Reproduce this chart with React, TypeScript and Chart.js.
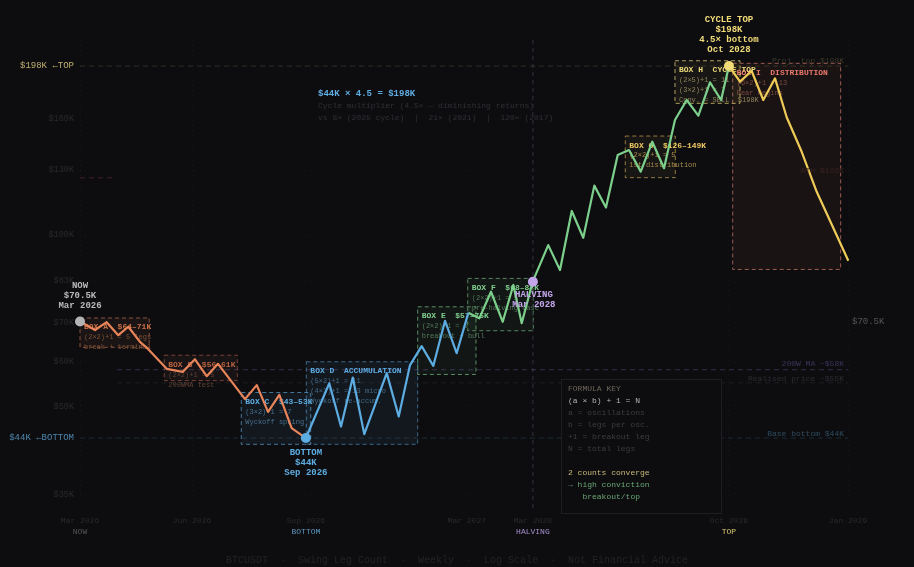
import React, { useEffect, useRef } from "react";
import Chart from "chart.js/auto";

// ---- data ----
const orangeX = [0, 1.33, 2.36, 3.39, 4.28, 5.31, 6.02, 7.68, 9.09, 10.18, 11.22, 12.22, 14.61, 15.65, 16.65, 17.65, 18.74, 20];
const orangeP = [70.5, 68.1, 70.3, 66.7, 69.0, 64.9, 63.1, 58.2, 57.5, 60.5, 56.5, 59.4, 51.5, 54.5, 48.9, 52.4, 45.8, 44];
const blueX = [20, 22.07, 23.11, 24.15, 25.17, 27.16, 28.22, 29.22, 30.25, 31.28, 32.32, 33.35, 34.38];
const blueP = [44, 54.9, 46.1, 56.2, 44.7, 57.2, 48.0, 59.1, 63.8, 58.9, 70.7, 62.0, 73.0];
const greenX = [34.38, 35.36, 36.39, 37.43, 38.37, 39.11, 40.08, 41.46, 42.5, 43.54, 44.56, 45.54, 46.57, 47.61, 48.61, 49.65, 50.67, 51.71, 52.68, 53.72, 54.75, 55.78, 56.76, 57.46];
const greenP = [73.0, 71.4, 79.5, 70.4, 81.7, 70.0, 82.8, 96.0, 86.8, 110.2, 98.9, 122.1, 111.8, 138.2, 141.0, 129.2, 145.8, 131.0, 159.2, 172.6, 162, 185.4, 172.6, 198];
const yellowX = [57.46, 58.44, 59.47, 60.5, 61.54, 62.57, 63.9, 65.23, 68.03];
const yellowP = [198, 185.9, 194.1, 172.6, 188.4, 161, 140, 119.1, 90.1];

const markerX = [0, 20, 40.1, 57.46];
const markerP = [70.5, 44, 82.8, 198];
const markerLines = [
  ["NOW", "$70.5K", "Mar 2026"],
  ["BOTTOM", "$44K", "Sep 2026"],
  ["HALVING", "Mar 2028"],
  ["CYCLE TOP", "$198K", "4.5× bottom", "Oct 2028"],
];

const priceTicks = [35, 44, 50, 60, 70, 83, 100, 130, 160, 198];
const priceTickLabels = ["$35K", "$44K ←BOTTOM", "$50K", "$60K", "$70K", "$83K", "$100K", "$130K", "$160K", "$198K ←TOP"];
const timeTicks = [0, 9.92, 20, 34.25, 40.1, 57.46, 68];
const timeLabels = ["Mar 2026", "Jun 2026", "Sep 2026", "Mar 2027", "Mar 2028", "Oct 2028", "Jan 2029"];
const timeTags = ["NOW", "", "BOTTOM", "", "HALVING", "TOP", ""];

const boxX0 = [0, 7.46, 14.28, 20.04, 29.9, 34.33, 48.28, 57.79, 52.68];
const boxX1 = [6.13, 13.93, 20.43, 29.9, 35.06, 40.14, 52.71, 67.35, 58.44];
const boxLow = [63.5, 55.5, 42.9, 42.9, 56.9, 67.9, 126.1, 87, 170.3];
const boxHigh = [71.5, 61.5, 52.9, 59.9, 74.8, 83.9, 149.2, 200.2, 202.3];
const boxTitles = ["BOX A  $64–71K", "BOX B  $56–61K", "BOX C  $43–53K", "BOX D  ACCUMULATION", "BOX E  $57–75K", "BOX F  $68–84K", "BOX G  $126–149K", "BOX I  DISTRIBUTION", "BOX H  CYCLE TOP"];
const boxNotes = [
  ["(2×2)+1 = 5 legs", "break + terminal"],
  ["(2×2)+1 = 5", "200WMA test"],
  ["(3×2)+1 = 7", "Wyckoff spring"],
  ["(5×2)+1 = 11", "(4×3)+1 = 13 micro", "Wyckoff re-accum."],
  ["(2×2)+1 = 5", "breakout + bull"],
  ["(2×2)+1 = 5", "pre-halving base"],
  ["(2×2)+1 = 5", "1st distribution"],
  ["(6×2)+1 = 13", "Bear begins"],
  ["(2×5)+1 = 11", "(3×2)+1 = 7", "Conv. = SELL  $198K"],
];

const refPrices = [198, 44, 58, 55, 126];
const refStart = [0, 0, 3.28, 3.28, 0];
const refEnd = [68, 68, 68, 68, 2.85];
const refLabels = ["Proj. top $198K", "Base bottom $44K", "200W MA ~$58K", "Realised price ~$55K", "ATH $126K"];

const halvingX = [40.1, 40.1];
const halvingP = [220, 33.16];

const formulaLines = ["FORMULA KEY", "(a × b) + 1 = N", "a = oscillations", "b = legs per osc.", "+1 = breakout leg", "N = total legs", "", "2 counts converge", "→ high conviction", "   breakout/top"];
const noteLines = ["$44K × 4.5 = $198K", "Cycle multiplier (4.5× — diminishing returns)", "vs 8× (2025 cycle)  |  21× (2021)  |  120× (2017)"];
const footerText = "BTCUSDT  ·  Swing Leg Count  ·  Weekly  ·  Log Scale  ·  Not Financial Advice";
const nowTag = "$70.5K";

// ---- styles ----
const BG = "#0d0d10";
const MONO = '"Liberation Mono", monospace';
const boxStyles = [
  { line: "rgba(232,133,90,.55)", fill: "rgba(232,133,90,.06)", title: "#c96f45", note: "#7c5238" },
  { line: "rgba(224,112,80,.5)", fill: "rgba(232,133,90,.05)", title: "#b8623f", note: "#5f4231" },
  { line: "rgba(93,173,226,.65)", fill: "rgba(93,173,226,.07)", title: "#5dade2", note: "#47708c" },
  { line: "rgba(93,173,226,.55)", fill: "rgba(93,173,226,.07)", title: "#5dade2", note: "#436a85" },
  { line: "rgba(126,210,140,.65)", fill: "rgba(126,210,140,.05)", title: "#7fce8e", note: "#53795a" },
  { line: "rgba(126,210,140,.6)", fill: "rgba(126,210,140,.05)", title: "#7fce8e", note: "#4f7556" },
  { line: "rgba(232,190,90,.6)", fill: "rgba(232,190,90,.05)", title: "#f0c860", note: "#a68c48" },
  { line: "rgba(226,130,115,.65)", fill: "rgba(232,120,60,.06)", title: "#e8786a", note: "#7a4a40" },
  { line: "rgba(240,220,120,.7)", fill: "rgba(240,220,120,.05)", title: "#eedb7a", note: "#8d8458" },
];
const refStyles = [
  { line: "rgba(240,220,120,.16)", label: "#3d3a2a" },
  { line: "rgba(93,173,226,.2)", label: "#2d4a5e" },
  { line: "rgba(160,130,230,.3)", label: "#3a3358" },
  { line: "rgba(140,140,160,.14)", label: "#2c2c30" },
  { line: "rgba(226,90,90,.3)", label: "#3a2222" },
];
const markerColors = ["#b4b4b4", "#5dade2", "#c3a6ea", "#f2dc78"];
const markerTextColors = ["#b9b9b9", "#5dade2", "#c3a6ea", "#f2dc78"];
const tagColors = ["#555555", "", "#5b96bf", "", "#a890cc", "#d8c470", ""];
const formulaColors = ["#6e6858", "#b5b5b5", "#3d3d3d", "#3d3d3d", "#3d3d3d", "#3d3d3d", "", "#c8b878", "#68a672", "#68a672"];

const pts = (xs: number[], ys: number[]) => xs.map((x, i) => ({ x, y: ys[i] }));
const legLine = (xs: number[], ys: number[], color: string) => ({
  data: pts(xs, ys), borderColor: color, borderWidth: 2.2, pointRadius: 0, tension: 0, fill: false, borderJoinStyle: "round" as const, clip: false,
});

function text(ctx: any, s: string, x: number, y: number, font: string, color: string, align = "left") {
  ctx.font = font;
  ctx.fillStyle = color;
  ctx.textAlign = align;
  ctx.textBaseline = "middle";
  ctx.fillText(s, x, y);
}

const boxesPlugin = {
  id: "boxes",
  beforeDatasetsDraw(chart: any) {
    const { ctx, scales: { x, y } } = chart;
    ctx.save();
    boxTitles.forEach((title, i) => {
      const l = x.getPixelForValue(boxX0[i]);
      const r = x.getPixelForValue(boxX1[i]);
      const t = y.getPixelForValue(boxHigh[i]);
      const b = y.getPixelForValue(boxLow[i]);
      const st = boxStyles[i];
      ctx.fillStyle = st.fill;
      ctx.fillRect(l, t, r - l, b - t);
      ctx.setLineDash([4, 3]);
      ctx.lineWidth = 1;
      ctx.strokeStyle = st.line;
      ctx.strokeRect(l, t, r - l, b - t);
      ctx.setLineDash([]);
      text(ctx, title, l + 4, t + 9.5, `bold 8px ${MONO}`, st.title);
      boxNotes[i].forEach((n, j) => text(ctx, n, l + 4, t + 19.5 + j * 10, `7px ${MONO}`, st.note));
    });
    noteLines.forEach((n, i) =>
      text(ctx, n, 318, 93.5 + i * 12, i === 0 ? `bold 9px ${MONO}` : `8px ${MONO}`, i === 0 ? "#5dade2" : "#2e3034"));
    ctx.restore();
  },
  afterDatasetsDraw(chart: any) {
    const { ctx, scales: { x, y } } = chart;
    ctx.save();
    const labelOffset = [-5.5, -4, -5.5, -4, -7];
    refLabels.forEach((s, i) => {
      text(ctx, s, 844, y.getPixelForValue(refPrices[i]) + labelOffset[i], `8px ${MONO}`, refStyles[i].label, "right");
    });
    text(ctx, nowTag, 852, y.getPixelForValue(markerP[0]) + 0.5, `9px ${MONO}`, "#555555");

    ctx.fillStyle = BG;
    ctx.fillRect(561.5, 379.5, 160, 134);
    ctx.strokeStyle = "#1d1e21";
    ctx.lineWidth = 1;
    ctx.strokeRect(561.5, 379.5, 160, 134);
    formulaLines.forEach((s, i) => {
      if (s) text(ctx, s, 568, 388.7 + i * 12, `8px ${MONO}`, formulaColors[i]);
    });

    markerLines.forEach((lines, i) => {
      const cx = x.getPixelForValue(markerX[i]);
      const py = y.getPixelForValue(markerP[i]);
      const startY = [py - 36, py + 15, py + 13.5, py - 46.5][i];
      lines.forEach((s, j) => text(ctx, s, cx + (i === 2 ? 1 : 0), startY + j * 10, `bold 9px ${MONO}`, markerTextColors[i], "center"));
    });

    timeTags.forEach((s, i) => {
      if (s) text(ctx, s, x.getPixelForValue(timeTicks[i]), 531.5, `8px ${MONO}`, tagColors[i], "center");
    });
    text(ctx, footerText, 457, 560, `10px ${MONO}`, "#212225", "center");
    ctx.restore();
  },
};

export default function App() {
  const ref = useRef<HTMLCanvasElement>(null);
  useEffect(() => {
    document.body.style.margin = "0";
    document.body.style.background = BG;
    const chart = new Chart(ref.current as any, {
      type: "line",
      plugins: [boxesPlugin as any],
      data: {
        datasets: [
          {
            data: pts(markerX, markerP),
            showLine: false,
            pointRadius: 5,
            pointBorderWidth: 0,
            pointBackgroundColor: markerColors,
            clip: false,
          } as any,
          legLine(orangeX, orangeP, "#e8855a"),
          legLine(blueX, blueP, "#5dade2"),
          legLine(greenX, greenP, "#7dd08c"),
          legLine(yellowX, yellowP, "#eecb58"),
          ...refPrices.map((p, i) => ({
            data: [{ x: refStart[i], y: p }, { x: refEnd[i], y: p }],
            borderColor: refStyles[i].line,
            borderWidth: 0.9,
            borderDash: [5, 4],
            pointRadius: 0,
          })),
          {
            data: pts(halvingX, halvingP),
            borderColor: "#2a2a34",
            borderWidth: 1.2,
            borderDash: [4, 4],
            pointRadius: 0,
          },
        ],
      },
      options: {
        responsive: false,
        animation: false,
        events: [],
        layout: { padding: { top: 40, right: 66, bottom: 0, left: 0 } },
        plugins: { legend: { display: false }, tooltip: { enabled: false }, title: { display: false } },
        scales: {
          x: {
            type: "linear",
            min: 0,
            max: 68,
            afterFit: (s: any) => { s.height = 59; },
            afterBuildTicks: (s: any) => { s.ticks = timeTicks.map((value) => ({ value })); },
            grid: { color: "rgba(255,255,255,.03)", drawTicks: false },
            border: { display: false, dash: [1, 4] },
            ticks: {
              autoSkip: false,
              maxRotation: 0,
              padding: 8,
              color: "#28292c",
              font: { family: "Liberation Mono", size: 8 },
              callback: (v: any) => timeLabels[timeTicks.indexOf(v)] ?? "",
            },
          },
          y: {
            type: "logarithmic",
            min: 33.16,
            max: 220,
            afterFit: (s: any) => { s.width = 80; },
            afterBuildTicks: (s: any) => { s.ticks = priceTicks.map((value) => ({ value })); },
            grid: { color: "rgba(255,255,255,.03)", drawTicks: false },
            border: { display: false, dash: [1, 4] },
            ticks: {
              autoSkip: false,
              padding: 6,
              color: (c: any) => {
                const v = c.tick?.value;
                return v === 198 ? "#bfae6a" : v === 44 ? "#4d86ad" : "#28292c";
              },
              font: (c: any) => {
                const v = c.tick?.value;
                return { family: "Liberation Mono", size: v === 198 || v === 44 ? 9 : 8.5 };
              },
              callback: (v: any) => priceTickLabels[priceTicks.indexOf(v)] ?? "",
            },
          },
        },
      } as any,
    });
    return () => chart.destroy();
  }, []);
  return <canvas ref={ref} width={914} height={567} style={{ display: "block", background: BG }} />;
}
